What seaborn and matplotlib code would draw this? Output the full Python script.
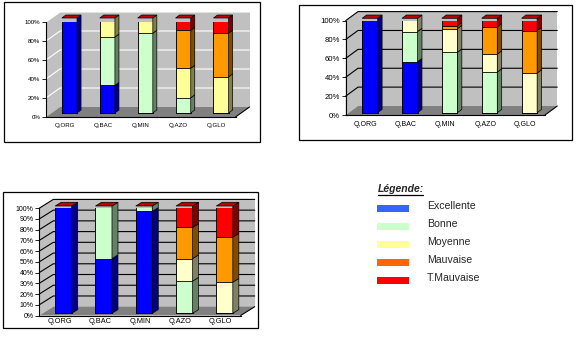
import matplotlib
matplotlib.use("Agg")
import matplotlib.pyplot as plt
from matplotlib.patches import Polygon, Rectangle
from matplotlib.lines import Line2D
from matplotlib.transforms import offset_copy
import pandas as pd
import seaborn as sns

categories = ["Q,ORG", "Q,BAC", "Q,MIN", "Q,AZO", "Q,GLO"]
levels = ["Excellente", "Bonne", "Moyenne", "Mauvaise", "T.Mauvaise"]

# Chart 1 : share (%) of each quality class
c1_excellente = [100, 29, 0, 0, 0]
c1_bonne = [0, 51, 84, 16, 0]
c1_moyenne = [0, 20, 16, 31, 38]
c1_mauvaise = [0, 0, 0, 40, 46]
c1_tmauvaise = [0, 0, 0, 13, 16]

# Chart 2
c2_excellente = [100, 54, 0, 0, 0]
c2_bonne = [0, 32, 64, 43, 0]
c2_moyenne = [0, 14, 25, 19, 42]
c2_mauvaise = [0, 0, 3, 29, 45]
c2_tmauvaise = [0, 0, 8, 9, 13]

# Chart 3
c3_excellente = [100, 51, 95, 0, 0]
c3_bonne = [0, 49, 5, 30, 0]
c3_moyenne = [0, 0, 0, 21, 29]
c3_mauvaise = [0, 0, 0, 29, 42]
c3_tmauvaise = [0, 0, 0, 20, 29]

ticks_20 = [0, 20, 40, 60, 80, 100]
ticks_10 = [0, 10, 20, 30, 40, 50, 60, 70, 80, 90, 100]

legend_title = "Légende:"
legend_colors = ["#3366FF", "#CCFFCC", "#FFFF99", "#FF6600", "#FF0000"]

W, H = 576, 339
WALL = "#C0C0C0"
FLOOR = "#808080"

sns.set_style("ticks")
plt.rcParams["font.family"] = ["Liberation Sans", "DejaVu Sans"]

fig = plt.figure(figsize=(W / 100, H / 100), dpi=100)


def shade(hex_color, k=0.5):
    r, g, b = matplotlib.colors.to_rgb(hex_color)
    return (r * k, g * k, b * k)


def fig_box(x0, y0, x1, y1):
    fig.add_artist(Rectangle((x0 / W, 1 - y1 / H), (x1 - x0) / W, (y1 - y0) / H,
                             transform=fig.transFigure, fill=False,
                             edgecolor="black", linewidth=0.9))


def draw_panel(series, ticks, cfg):
    left, top, right, bottom = cfg["front"]
    ax = fig.add_axes([left / W, 1 - bottom / H, (right - left) / W, (bottom - top) / H])
    ax.patch.set_visible(False)
    n = len(categories)
    ux = (right - left) / n
    uy = (bottom - top) / 100.0
    wx, wy = cfg["wall"][0] / ux, cfg["wall"][1] / uy
    dx, dy = cfg["depth"][0] / ux, cfg["depth"][1] / uy
    x0, x1 = -0.5, n - 0.5

    table = pd.DataFrame(dict(zip(levels, series)), index=categories)
    cum = table.cumsum(axis=1)

    # stacked bars: cumulative totals drawn tallest first
    bar_tr = offset_copy(ax.transData, fig=fig, x=cfg["bar_off"][0],
                         y=cfg["bar_off"][1], units="dots")
    bars = {}
    for lvl in reversed(levels):
        n0 = len(ax.patches)
        sns.barplot(x=categories, y=cum[lvl].values, color=cfg["colors"][lvl],
                    saturation=1, width=cfg["bar_w"], errorbar=None,
                    edgecolor="black", linewidth=0.6, ax=ax, zorder=2)
        bars[lvl] = ax.patches[n0:]
        for p in bars[lvl]:
            p.set_transform(bar_tr)

    # side faces of each segment and the top of each bar
    for i in range(n):
        prev = 0.0
        for lvl in levels:
            p = bars[lvl][i]
            xr = p.get_x() + p.get_width()
            top_v = p.get_height()
            if top_v > prev:
                ax.add_patch(Polygon([(xr, prev), (xr + dx, prev + dy),
                                      (xr + dx, top_v + dy), (xr, top_v)],
                                     closed=True, transform=bar_tr,
                                     facecolor=shade(cfg["colors"][lvl]),
                                     edgecolor="black", linewidth=0.5,
                                     zorder=2.1, clip_on=False))
            prev = top_v
        p = bars[levels[-1]][i]
        xl, xr, tv = p.get_x(), p.get_x() + p.get_width(), p.get_height()
        ax.add_patch(Polygon([(xl, tv), (xr, tv), (xr + dx, tv + dy), (xl + dx, tv + dy)],
                             closed=True, transform=bar_tr,
                             facecolor="#C00000", edgecolor="black",
                             linewidth=0.5, zorder=2.1, clip_on=False))

    # walls and floor
    ax.add_patch(Polygon([(x0 + wx, wy), (x1 + wx, wy), (x1 + wx, 100 + wy), (x0 + wx, 100 + wy)],
                         closed=True, facecolor=WALL, edgecolor="none", zorder=0, clip_on=False))
    ax.add_patch(Polygon([(x0, 0), (x0, 100), (x0 + wx, 100 + wy), (x0 + wx, wy)],
                         closed=True, facecolor=WALL, edgecolor="none", zorder=0, clip_on=False))
    ax.add_patch(Polygon([(x0, 0), (x1, 0), (x1 + wx, wy), (x0 + wx, wy)],
                         closed=True, facecolor=FLOOR, edgecolor="none", zorder=0.2, clip_on=False))
    ax.add_line(Line2D([x1, x1 + wx], [0, wy], color="black", linewidth=0.8,
                       zorder=2.5, clip_on=False))
    for t in ticks[1:]:
        ax.add_line(Line2D([x0, x0 + wx, x1 + wx], [t, t + wy, t + wy],
                           color=cfg["grid"], linewidth=0.8, zorder=0.5, clip_on=False))

    ax.set_xlim(x0, x1)
    ax.set_ylim(0, 100)
    ax.set_xlabel("")
    ax.set_ylabel("")
    ax.set_yticks(ticks)
    ax.set_yticklabels([f"{t}%" for t in ticks])
    ax.set_xticks(range(n))
    ax.set_xticklabels(categories)
    ax.tick_params(axis="y", length=3, width=0.6, pad=1, labelsize=cfg["fs"],
                   direction="out", left=True, colors="black")
    ax.tick_params(axis="x", length=0, pad=cfg["xpad"], labelsize=cfg["cfs"],
                   colors="black")
    for s in ("top", "right"):
        ax.spines[s].set_visible(False)
    for s in ("left", "bottom"):
        ax.spines[s].set_color("black")
        ax.spines[s].set_linewidth(0.8)
    fig_box(*cfg["frame"])
    return ax


colors_a = {"Excellente": "#0000FF", "Bonne": "#CCFFCC", "Moyenne": "#FFFF99",
            "Mauvaise": "#FF9900", "T.Mauvaise": "#FF0000"}
colors_b = dict(colors_a, Moyenne="#FFFFCC")

draw_panel([c1_excellente, c1_bonne, c1_moyenne, c1_mauvaise, c1_tmauvaise], ticks_20,
           dict(front=(46, 22, 235.5, 117), bar_off=(4.5, 4), wall=(14, 10),
                depth=(4, 3), bar_w=0.4, grid="white", fs=4.4, cfs=4.4, xpad=4,
                colors=colors_a, frame=(4, 2, 260, 142)))
draw_panel([c2_excellente, c2_bonne, c2_moyenne, c2_mauvaise, c2_tmauvaise], ticks_20,
           dict(front=(345.7, 20.6, 545, 115), bar_off=(4.3, 2.3), wall=(12.3, 9),
                depth=(4.4, 3.3), bar_w=0.39, grid="black", fs=5.6, cfs=5.0, xpad=4,
                colors=colors_b, frame=(299, 5, 572, 140)))
draw_panel([c3_excellente, c3_bonne, c3_moyenne, c3_mauvaise, c3_tmauvaise], ticks_10,
           dict(front=(39.3, 208.2, 240.7, 315.5), bar_off=(4, 2.2), wall=(14, 8.8),
                depth=(6, 3.7), bar_w=0.41, grid="black", fs=5.0, cfs=5.3, xpad=2,
                colors=colors_b, frame=(3, 192, 258, 328)))

# legend block
fig.text(377.7 / W, 1 - 189 / H, legend_title, fontsize=7.5, fontweight="bold",
         fontstyle="italic", ha="left", va="center")
fig.add_artist(Line2D([377.7 / W, 423 / W], [1 - 194.5 / H, 1 - 194.5 / H],
                      transform=fig.transFigure, color="black", linewidth=0.9))
for k, (lbl, col) in enumerate(zip(levels, legend_colors)):
    yc = 208.3 + k * 18.1
    fig.add_artist(Rectangle((377 / W, 1 - (yc + 3.4) / H), 32 / W, 6.8 / H,
                             transform=fig.transFigure, facecolor=col, edgecolor="none"))
    fig.text(426.7 / W, 1 - (yc - 2.4) / H, lbl, fontsize=7.6, ha="left", va="center")

fig.savefig("out.png", dpi=100)
